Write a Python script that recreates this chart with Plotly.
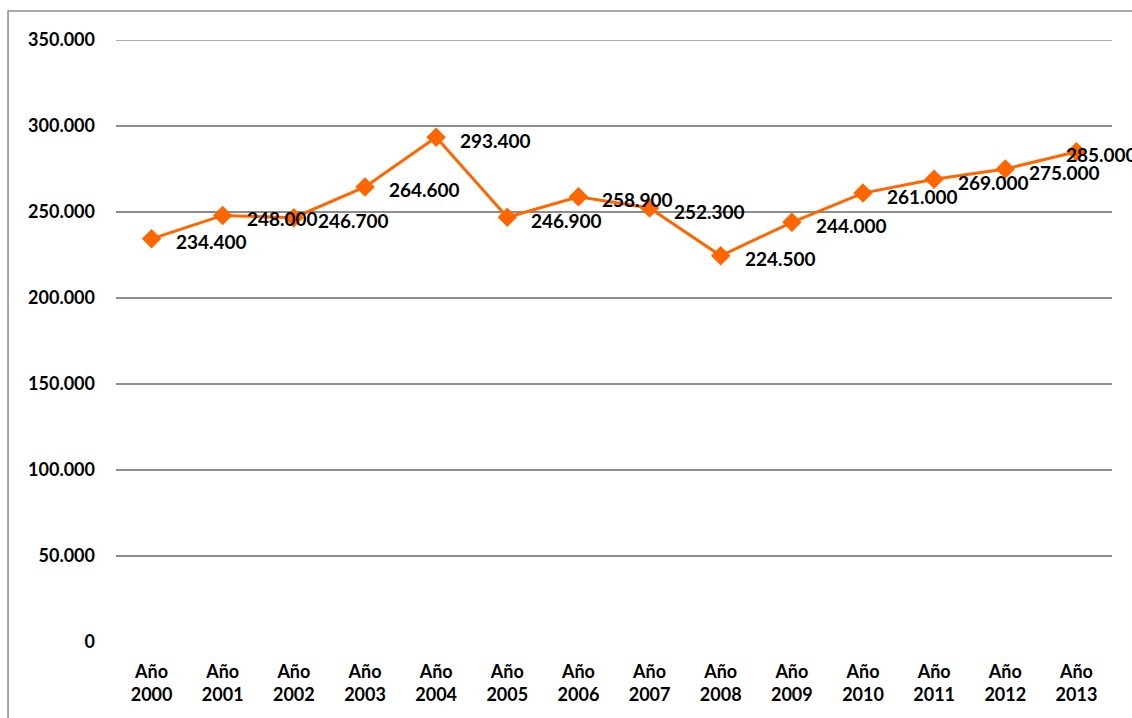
import plotly.graph_objects as go

years = ["2000", "2001", "2002", "2003", "2004", "2005", "2006",
         "2007", "2008", "2009", "2010", "2011", "2012", "2013"]
values = [234400, 248000, 246700, 264600, 293400, 246900, 258900,
          252300, 224500, 244000, 261000, 269000, 275000, 285000]
tick_vals = [0, 50000, 100000, 150000, 200000, 250000, 300000, 350000]

cats = ["Año<br>" + y for y in years]

FONT = "Lato, 'Open Sans', sans-serif"
GRID = "#8c8c8c"

fig = go.Figure()

fig.add_trace(
    go.Scatter(
        x=cats,
        y=values,
        mode="lines+markers",
        line=dict(color="#FF6600", width=3),
        marker=dict(symbol="diamond", size=15, color="#FF6600"),
        hoverinfo="skip",
        showlegend=False
    )
)

# data labels to the right of each point (last one sits on its point)
for i, (c, v) in enumerate(zip(cats, values)):
    fig.add_annotation(
        x=c, y=v,
        text=f"{v:,}".replace(",", "."),
        showarrow=False,
        xanchor="left",
        yanchor="middle",
        xshift=-12 if i == len(values) - 1 else 22,
        yshift=-3,
        font=dict(family=FONT, size=19, color="black", weight="bold")
    )

# top grid line (range edge)
fig.add_shape(
    type="line", xref="paper", yref="y",
    x0=0, x1=1, y0=tick_vals[-1], y1=tick_vals[-1],
    line=dict(color=GRID, width=1.5), layer="below"
)

# outer frame
fig.add_shape(
    type="rect", xref="paper", yref="paper",
    x0=-0.1084, x1=1.2, y0=-0.3, y1=1.048,
    line=dict(color=GRID, width=1.5),
    fillcolor="rgba(0,0,0,0)", layer="below"
)

fig.update_layout(
    width=1132,
    height=718,
    paper_bgcolor="white",
    plot_bgcolor="white",
    separators=",.",
    margin=dict(l=116, r=20, t=40, b=76),
    font=dict(family=FONT, size=18, color="black", weight="bold"),
)

fig.update_xaxes(
    type="category",
    range=[-0.5, 13.5],
    showgrid=False,
    showline=False,
    ticks="",
    ticklabelstandoff=17,
    tickfont=dict(family=FONT, size=18, weight="bold"),
)

fig.update_yaxes(
    range=[0, 350000],
    tickvals=tick_vals,
    tickformat=",d",
    showgrid=True,
    gridcolor=GRID,
    gridwidth=1.5,
    zeroline=False,
    showline=False,
    ticks="",
    ticklabelstandoff=20,
    tickfont=dict(family=FONT, size=18, weight="bold"),
)

fig.write_html(
    "out.html",
    config={"displayModeBar": False},
    post_script="document.body.style.margin='0px';"
)
